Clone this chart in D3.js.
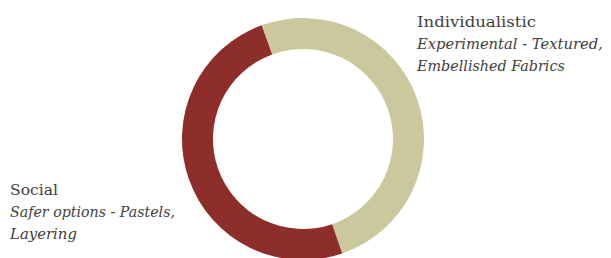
<!DOCTYPE html>
<html>
<head>
<meta charset="utf-8">
<script src="https://cdn.jsdelivr.net/npm/d3@7"></script>
<style>
  body { margin: 0; background: #fff; }
  svg { display: block; }
</style>
</head>
<body>
<svg id="chart" width="611" height="258"></svg>
<script>
const categories = ["Individualistic", "Social"];
const values = [50.3, 49.7];
const subtitles = [
	["Experimental - Textured,", "Embellished Fabrics"],
	["Safer options - Pastels,", "Layering"]
];
const colors = ["#cbc89e", "#8e2e2b"];

const width = 611, height = 258;
const cx = 303, cy = 139;
const outerR = 121, innerR = 90;
const startDeg = -20;

const svg = d3.select("#chart");

const pie = d3.pie()
	.sort(null)
	.value(d => d.value)
	.startAngle(startDeg * Math.PI / 180)
	.endAngle((startDeg + 360) * Math.PI / 180);

const arc = d3.arc()
	.innerRadius(innerR)
	.outerRadius(outerR);

const data = categories.map((c, i) => ({name: c, value: values[i], color: colors[i]}));

const g = svg.append("g")
	.attr("transform", "translate(" + cx + "," + cy + ")");

g.selectAll("path")
	.data(pie(data))
	.enter()
	.append("path")
	.attr("d", arc)
	.style("fill", d => d.data.color);

// label blocks: x, first baseline, widths per line (title, sub1, sub2)
const labelPos = [
	{x: 417, y: 27, w: [119, 186, 148]},
	{x: 10, y: 195, w: [48, 165, 67]}
];

const lineGap = 22;

// each line is squeezed horizontally to the width it has in the picture
function addLine(str, x, y, w, italic) {
	const t = svg.append("text")
		.attr("font-family", "'DejaVu Serif', 'Liberation Serif', serif")
		.attr("fill", "#404040")
		.attr("font-size", "15.5px")
		.attr("font-style", italic ? "italic" : "normal")
		.text(str);
	const natural = t.node().getComputedTextLength();
	const sx = w / natural;
	t.attr("transform", "translate(" + x + "," + y + ") scale(" + sx + ",1)");
}

labelPos.forEach(function(p, i) {
	addLine(categories[i], p.x, p.y, p.w[0], false);
	subtitles[i].forEach(function(s, k) {
		addLine(s, p.x, p.y + lineGap * (k + 1), p.w[k + 1], true);
	});
});
</script>
</body>
</html>
